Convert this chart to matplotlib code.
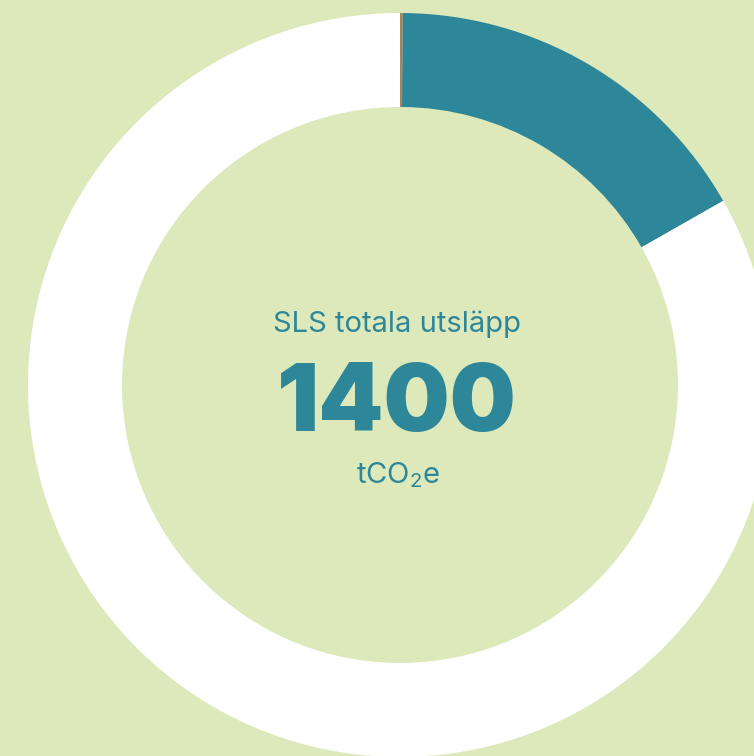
import matplotlib
matplotlib.use("Agg")
import matplotlib.pyplot as plt

# utsläpp per del (tCO2e), läst från bilden
delar = ["Brun", "Blå", "Övrigt"]
varden = [1.6, 233, 1165.4]
farger = ["#B0825A", "#2E8799", "#FFFFFF"]
total_text = "1400"
rubrik = "SLS totala utsläpp"
enhet = r"tCO$_2$e"

bakgrund = "#DDE9BA"
teal = "#2E8799"

plt.rcParams["mathtext.fontset"] = "custom"
plt.rcParams["mathtext.rm"] = "Inter"
plt.rcParams["mathtext.it"] = "Inter"

fig = plt.figure(figsize=(7.54, 7.56), dpi=100, facecolor=bakgrund)
ax = fig.add_axes([0, 0, 1, 1])
ax.set_facecolor(bakgrund)

cx, cy, r = 400, 756 - 385, 372
ax.pie(varden, colors=farger, startangle=90, counterclock=False,
       center=(cx, cy), radius=r,
       wedgeprops=dict(width=94, linewidth=0))

ax.set_xlim(0, 754)
ax.set_ylim(0, 756)
ax.set_aspect("equal")
ax.axis("off")

ax.text(cx - 3, 756 - 324, rubrik, ha="center", va="center",
        fontsize=21, color=teal, family="Inter")
ax.text(cx - 3, 756 - 407, total_text, ha="center", va="center",
        fontsize=67, fontweight="black", color=teal, family="Inter")
ax.text(cx - 2, 756 - 475, enhet, ha="center", va="center",
        fontsize=21, color=teal, family="Inter")

fig.savefig("out.png", dpi=100, facecolor=bakgrund)
